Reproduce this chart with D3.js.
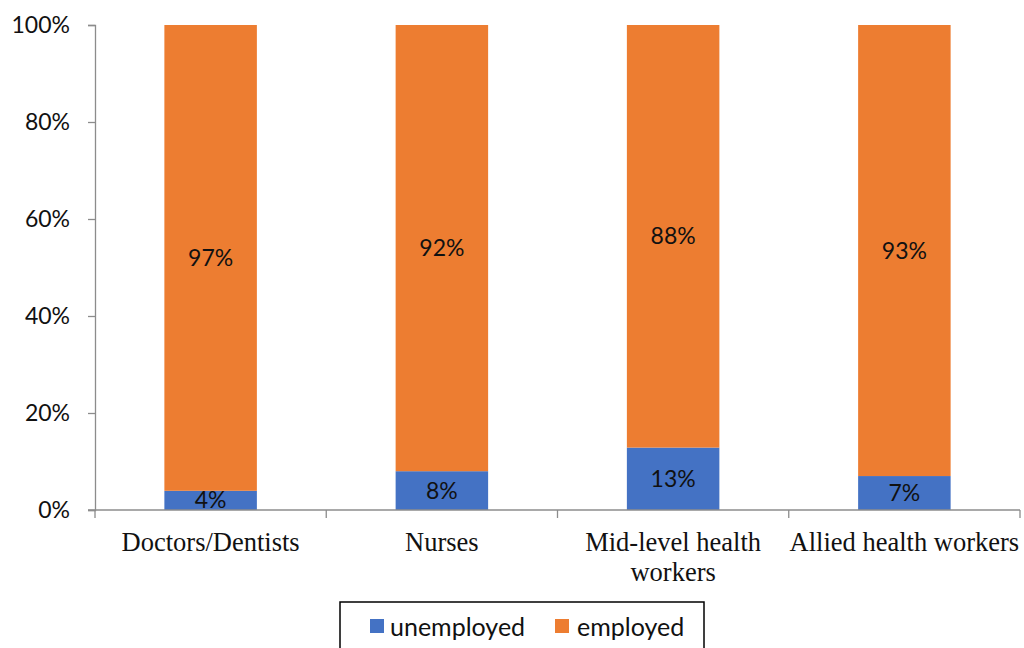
<!DOCTYPE html>
<html>
<head>
<meta charset="utf-8">
<script src="https://cdn.jsdelivr.net/npm/d3@7"></script>
<style>
  html, body { margin: 0; padding: 0; background: #fff; }
  svg { display: block; }
</style>
</head>
<body>
<svg id="chart" width="1024" height="648"></svg>
<script>
// Employment status by health worker cadre (percent)
const categories = ["Doctors/Dentists", "Nurses", "Mid-level health workers", "Allied health workers"];
const categoryLines = [["Doctors/Dentists"], ["Nurses"], ["Mid-level health", "workers"], ["Allied health workers"]];
const seriesNames = ["unemployed", "employed"];
const unemployed = [4, 8, 13, 7];
const employed = [97, 92, 88, 93];
const yTicks = [0, 0.2, 0.4, 0.6, 0.8, 1.0];
const colors = { unemployed: "#4472C4", employed: "#ED7D31" };

const svg = d3.select("#chart");
const margin = { left: 95, right: 4, top: 25, bottom: 138 };
const W = 1024, H = 648;
const x0 = margin.left, x1 = W - margin.right;
const yTop = margin.top, yBot = H - margin.bottom;

const rows = categories.map((c, i) => ({ category: c, unemployed: unemployed[i], employed: employed[i] }));
const stacked = d3.stack().keys(seriesNames).offset(d3.stackOffsetExpand)(rows);

const x = d3.scaleBand().domain(categories).range([x0, x1]).paddingInner(0).paddingOuter(0);
const barW = x.bandwidth() * 0.4;
const y = d3.scaleLinear().domain([0, 1]).range([yBot, yTop]);

const axisColor = "#8c8c8c";
const sansFont = "Lato, 'Open Sans', sans-serif";

// Bars
stacked.forEach(series => {
  const g = svg.append("g");
  g.selectAll("rect").data(series).join("rect")
    .attr("x", d => x(d.data.category) + (x.bandwidth() - barW) / 2)
    .attr("width", barW)
    .attr("y", d => y(d[1]))
    .attr("height", d => y(d[0]) - y(d[1]))
    .attr("fill", colors[series.key]);
  g.selectAll("text").data(series).join("text")
    .attr("x", d => x(d.data.category) + x.bandwidth() / 2)
    .attr("y", d => (y(d[0]) + y(d[1])) / 2)
    .attr("dy", "0.35em")
    .attr("text-anchor", "middle")
    .attr("font-family", sansFont)
    .attr("font-size", 23)
    .attr("fill", "#111")
    .text(d => d.data[series.key] + "%");
});

// Y axis
const yAxis = d3.axisLeft(y).tickValues(yTicks).tickFormat(d3.format(".0%")).tickSizeOuter(0).tickSize(7).tickPadding(18);
const gy = svg.append("g").attr("transform", `translate(${x0},0)`).call(yAxis);
gy.select(".domain").attr("stroke", axisColor).attr("stroke-width", 1.3);
gy.selectAll(".tick line").attr("stroke", axisColor).attr("stroke-width", 1.3);
gy.selectAll(".tick text").attr("font-family", sansFont).attr("font-size", 23).attr("fill", "#111");

// X axis line with category boundary ticks
svg.append("line").attr("x1", x0 - 7).attr("x2", x1).attr("y1", yBot).attr("y2", yBot)
  .attr("stroke", axisColor).attr("stroke-width", 1.3);
const bounds = categories.map(c => x(c)).concat([x1]);
svg.append("g").selectAll("line").data(bounds).join("line")
  .attr("x1", d => d).attr("x2", d => d).attr("y1", yBot).attr("y2", yBot + 8)
  .attr("stroke", axisColor).attr("stroke-width", 1.3);

// Category labels
const catG = svg.append("g");
categories.forEach((c, i) => {
  const t = catG.append("text")
    .attr("x", x(c) + x.bandwidth() / 2)
    .attr("y", yBot + 41)
    .attr("text-anchor", "middle")
    .attr("font-family", "'Liberation Serif', 'Times New Roman', serif")
    .attr("font-size", 26.5)
    .attr("fill", "#111");
  categoryLines[i].forEach((line, j) => {
    t.append("tspan").attr("x", x(c) + x.bandwidth() / 2).attr("dy", j === 0 ? 0 : 30).text(line);
  });
});

// Legend
const legend = svg.append("g");
legend.append("rect").attr("x", 340).attr("y", 602).attr("width", 364).attr("height", 60)
  .attr("fill", "#fff").attr("stroke", "#000").attr("stroke-width", 1.5);
const legendItems = [
  { key: "unemployed", sx: 370, tx: 390 },
  { key: "employed", sx: 555, tx: 577 }
];
legendItems.forEach(it => {
  legend.append("rect").attr("x", it.sx).attr("y", 619).attr("width", 14).attr("height", 14).attr("fill", colors[it.key]);
  legend.append("text").attr("x", it.tx).attr("y", 627).attr("dy", "0.35em")
    .attr("font-family", sansFont).attr("font-size", 25).attr("fill", "#111").text(it.key);
});
</script>
</body>
</html>
